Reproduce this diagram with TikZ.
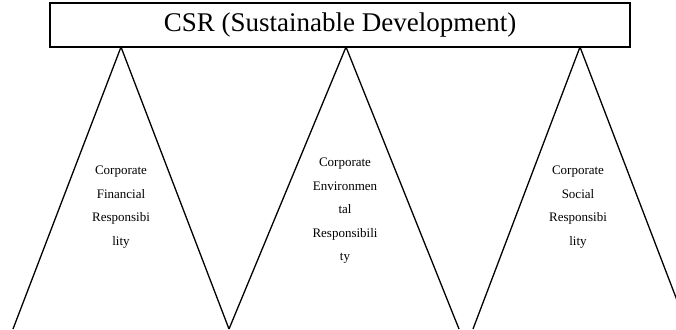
\documentclass[tikz,border=0pt]{standalone}
\usepackage{fontspec}
\setmainfont{Liberation Serif}

\tikzset{
  headbox/.style={draw, line width=1.1pt, fill=white, inner sep=0pt,
    minimum width=580pt, minimum height=44pt,
    font=\fontsize{27}{30}\selectfont},
  pillar/.style={line width=1.3pt},
  pillartext/.style={align=center, inner sep=0pt,
    font=\fontsize{13}{23.5}\selectfont}
}

\begin{document}
\begin{tikzpicture}[x=1pt,y=-1pt]
  \useasboundingbox (0,0) rectangle (676,329);
  \clip (0,0) rectangle (676,329);

  % apex and foot points of the three pillars
  \coordinate (fintop) at (121,47);
  \coordinate (finl) at (13,329);
  \coordinate (finr) at (229,329);
  \coordinate (envtop) at (346,47);
  \coordinate (envl) at (229,329);
  \coordinate (envr) at (459,329);
  \coordinate (soctop) at (580,47);
  \coordinate (socl) at (473,329);
  \coordinate (socr) at (688,329);

  \draw[pillar] (finl) -- (fintop) -- (finr);
  \draw[pillar] (envl) -- (envtop) -- (envr);
  \draw[pillar] (socl) -- (soctop) -- (socr);

  \node[headbox] (csr) at (340,25) {CSR (Sustainable Development)};

  \node[pillartext] (fin) at (121,207) {Corporate\\Financial\\Responsibi\\lity};
  \node[pillartext] (env) at (345,211) {Corporate\\Environmen\\tal\\Responsibili\\ty};
  \node[pillartext] (soc) at (578,207) {Corporate\\Social\\Responsibi\\lity};
\end{tikzpicture}
\end{document}
